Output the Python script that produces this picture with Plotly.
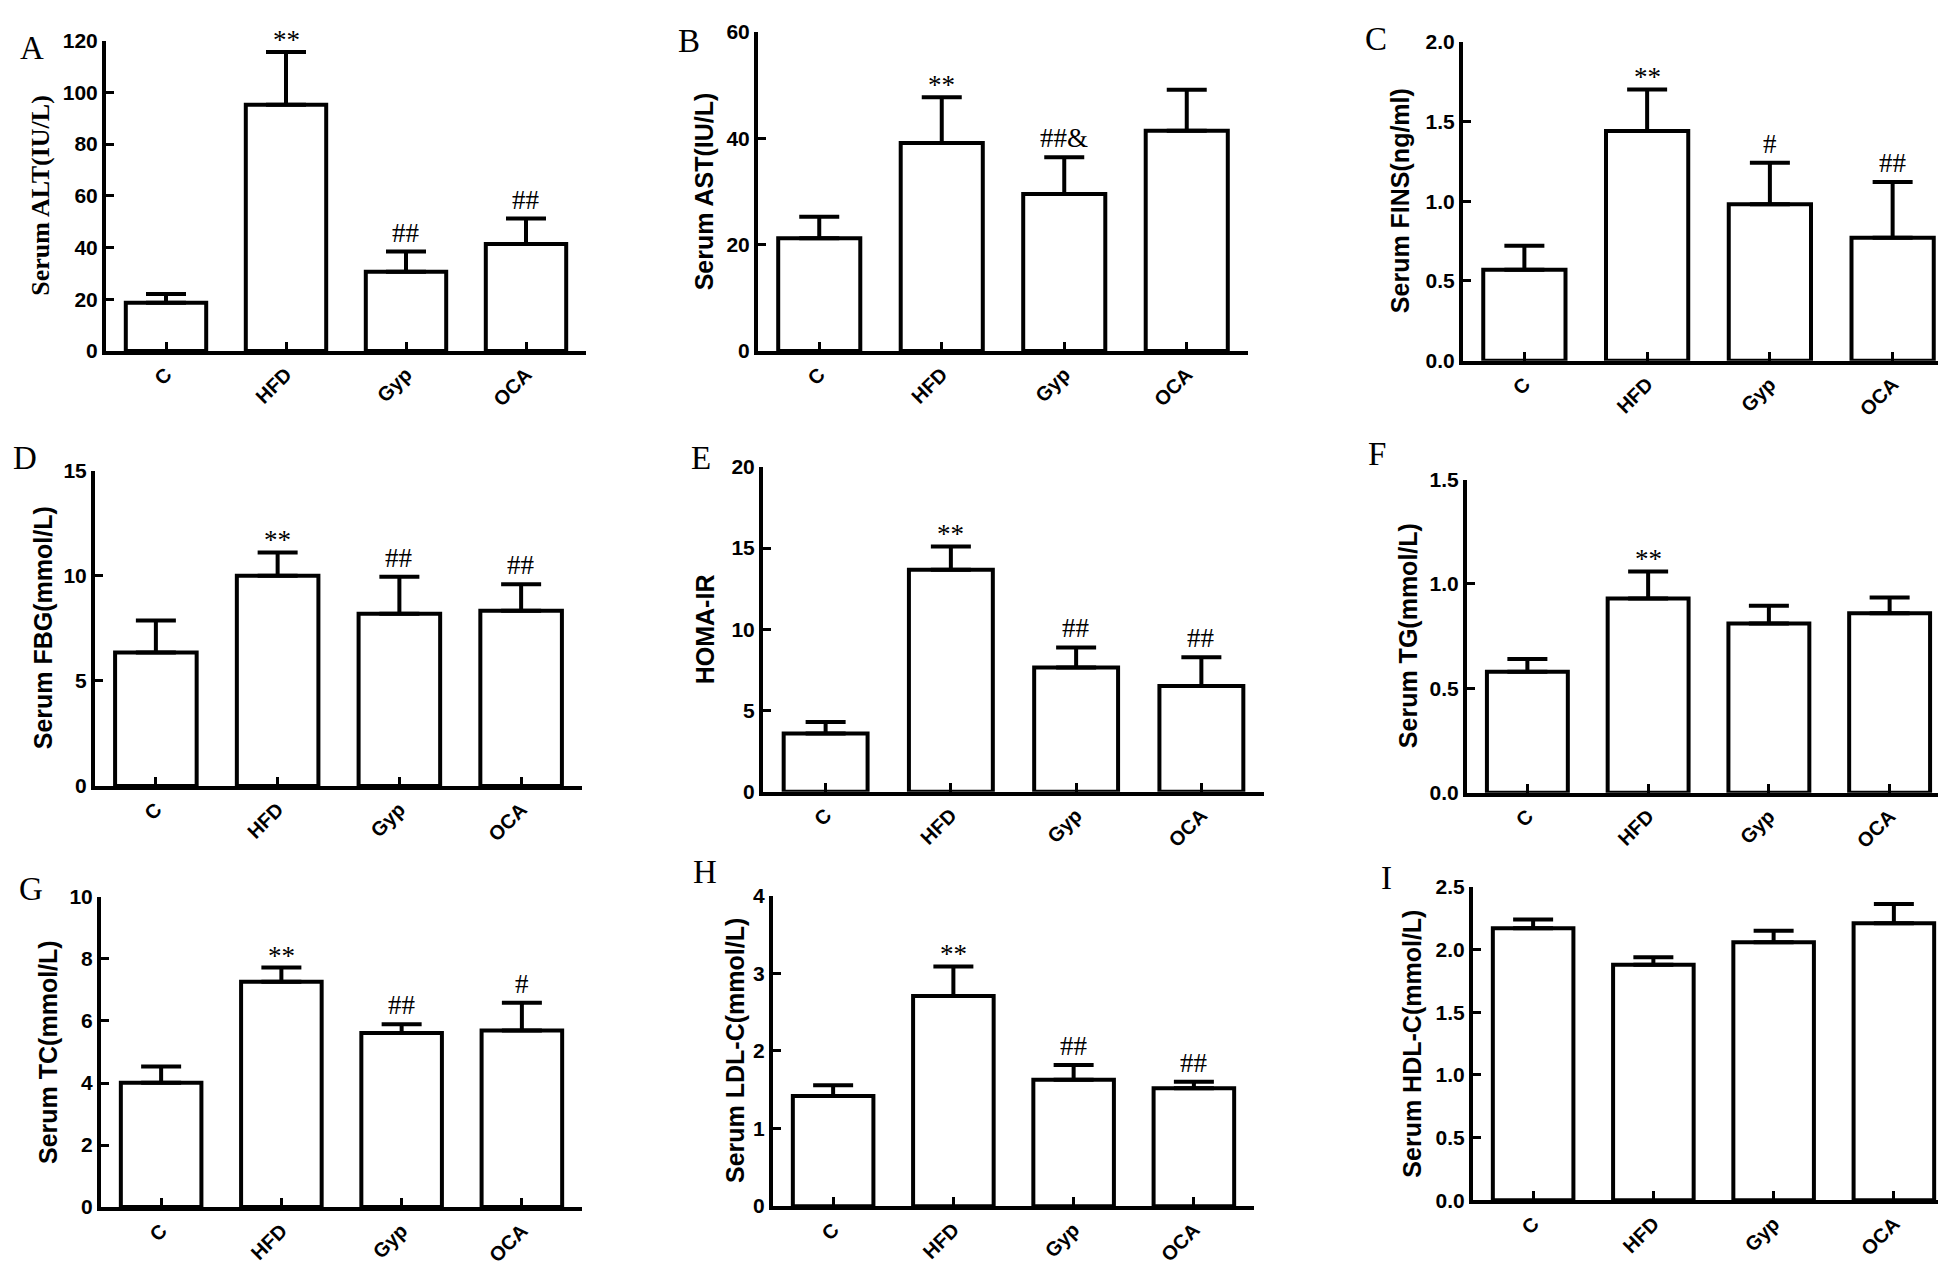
import plotly.graph_objects as go

W, H = 1946, 1271

groups = ["C", "HFD", "Gyp", "OCA"]

# Panel data: means and upper SD
alt_mean = [18.6, 95.2, 30.6, 41.3]
alt_sd = [3.4, 20.4, 7.8, 9.9]
ast_mean = [21.2, 39.1, 29.5, 41.4]
ast_sd = [4.0, 8.6, 6.9, 7.7]
fins_mean = [0.57, 1.44, 0.98, 0.77]
fins_sd = [0.15, 0.26, 0.26, 0.35]
fbg_mean = [6.35, 10.0, 8.19, 8.34]
fbg_sd = [1.52, 1.11, 1.76, 1.25]
homa_mean = [3.59, 13.66, 7.65, 6.51]
homa_sd = [0.70, 1.44, 1.23, 1.77]
tg_mean = [0.58, 0.93, 0.81, 0.86]
tg_sd = [0.06, 0.13, 0.085, 0.075]
tc_mean = [4.01, 7.26, 5.61, 5.69]
tc_sd = [0.52, 0.46, 0.28, 0.90]
ldl_mean = [1.42, 2.71, 1.63, 1.52]
ldl_sd = [0.14, 0.38, 0.19, 0.085]
hdl_mean = [2.17, 1.88, 2.06, 2.21]
hdl_sd = [0.07, 0.06, 0.09, 0.155]

alt_sig = ["", "**", "##", "##"]
ast_sig = ["", "**", "##&", ""]
fins_sig = ["", "**", "#", "##"]
fbg_sig = ["", "**", "##", "##"]
homa_sig = ["", "**", "##", "##"]
tg_sig = ["", "**", "", ""]
tc_sig = ["", "**", "##", "#"]
ldl_sig = ["", "**", "##", "##"]
hdl_sig = ["", "", "", ""]

panel_letters = ["A", "B", "C", "D", "E", "F", "G", "H", "I"]
y_titles = ["Serum ALT(IU/L)", "Serum AST(IU/L)", "Serum FINS(ng/ml)",
            "Serum FBG(mmol/L)", "HOMA-IR", "Serum TG(mmol/L)",
            "Serum TC(mmol/L)", "Serum LDL-C(mmol/L)", "Serum HDL-C(mmol/L)"]
y_max = [120, 60, 2.0, 15, 20, 1.5, 10, 4, 2.5]
y_dtick = [20, 20, 0.5, 5, 5, 0.5, 2, 1, 0.5]
y_fmt = ["", "", ".1f", "", "", ".1f", "", "", ".1f"]

means = [alt_mean, ast_mean, fins_mean, fbg_mean, homa_mean, tg_mean, tc_mean, ldl_mean, hdl_mean]
sds = [alt_sd, ast_sd, fins_sd, fbg_sd, homa_sd, tg_sd, tc_sd, ldl_sd, hdl_sd]
sigs = [alt_sig, ast_sig, fins_sig, fbg_sig, homa_sig, tg_sig, tc_sig, ldl_sig, hdl_sig]

# layout geometry in pixels: (left, right, top, bottom) of each plot area
boxes = [
    (98, 578, 21, 337), (750, 1240, 12, 337), (1455, 1946, 22, 347),
    (87, 574, 459, 780), (755, 1256, 455, 786), (1459, 1942, 468, 787),
    (93, 574, 893, 1209), (765, 1246, 892, 1208), (1465, 1946, 883, 1202),
]
title_x = [33, 696, 1392, 35, 697, 1400, 40, 727, 1404]
letter_pos = [(24, 29), (681, 21), (1368, 19), (17, 446), (693, 446), (1369, 442),
              (23, 885), (697, 868), (1378, 874)]

SANS = "Liberation Sans, Arial, sans-serif"
SERIF = "Liberation Serif, Times New Roman, serif"

fig = go.Figure()
annotations = []
layout = dict(width=W, height=H, margin=dict(l=0, r=0, t=0, b=0),
              paper_bgcolor="white", plot_bgcolor="white", showlegend=False,
              bargap=0.33)

for i in range(9):
    n = i + 1
    xa = "x" if n == 1 else f"x{n}"
    ya = "y" if n == 1 else f"y{n}"
    l, r, t, b = boxes[i]
    fig.add_trace(go.Bar(
        x=groups, y=means[i], xaxis=xa, yaxis=ya,
        marker=dict(color="white", line=dict(color="black", width=4)),
        error_y=dict(type="data", array=sds[i], arrayminus=[0] * 4, symmetric=False,
                     color="black", thickness=4, width=20),
        hoverinfo="skip",
    ))
    layout[f"xaxis{'' if n == 1 else n}"] = dict(
        domain=[l / W, r / W], anchor=ya, range=[-0.5, 3.5],
        showline=True, linewidth=4, linecolor="black", showgrid=False, zeroline=False,
        ticks="inside", ticklen=9, tickwidth=3, tickcolor="black",
        tickangle=-45, tickfont=dict(family=SANS, size=20, color="black", weight="bold"),
    )
    layout[f"yaxis{'' if n == 1 else n}"] = dict(
        domain=[1 - b / H, 1 - t / H], anchor=xa, range=[0, y_max[i]],
        dtick=y_dtick[i], tick0=0, tickformat=y_fmt[i],
        showline=True, linewidth=4, linecolor="black", showgrid=False, zeroline=False,
        ticks="inside", ticklen=8, tickwidth=3, tickcolor="black",
        tickfont=dict(family=SANS, size=21, color="black", weight="bold"),
    )
    # y-axis title
    annotations.append(dict(
        text=y_titles[i], xref="paper", yref="paper",
        x=title_x[i] / W, y=1 - (t + b) / 2 / H, textangle=-90,
        showarrow=False, xanchor="center", yanchor="middle",
        font=dict(family=SERIF if i == 0 else SANS, size=26 if i == 0 else 25,
                  color="black", weight="bold"),
    ))
    # panel letter
    lx, ly = letter_pos[i]
    annotations.append(dict(
        text=panel_letters[i], xref="paper", yref="paper",
        x=lx / W, y=1 - ly / H, showarrow=False, xanchor="center", yanchor="middle",
        font=dict(family=SERIF, size=33, color="black"),
    ))
    # significance marks
    for j in range(4):
        s = sigs[i][j]
        if not s:
            continue
        annotations.append(dict(
            text=s, xref=xa, yref=ya, x=groups[j], y=means[i][j] + sds[i][j],
            showarrow=False, xanchor="center", yanchor="middle",
            yshift=12 if s == "**" else 19,
            font=dict(family=SERIF, size=27, color="black"),
        ))

layout["annotations"] = annotations
fig.update_layout(**layout)
fig.write_html("out.html")
